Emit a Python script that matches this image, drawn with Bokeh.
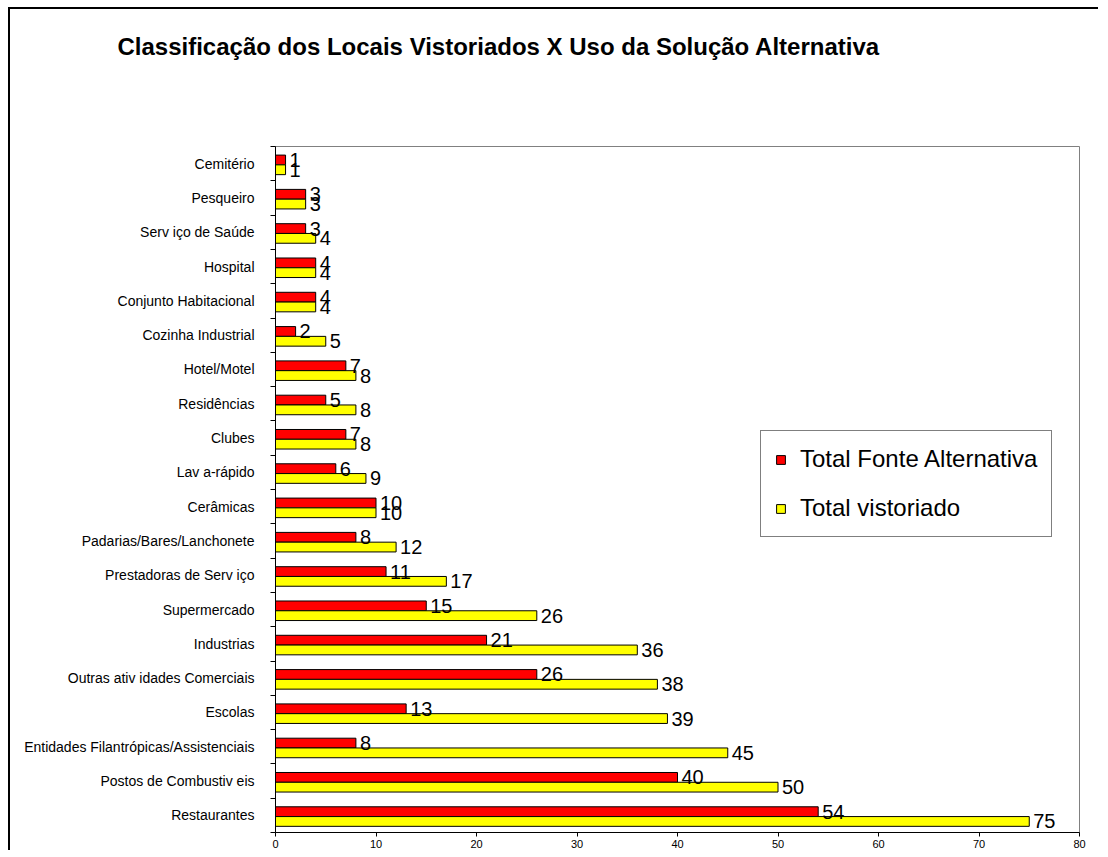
from bokeh.plotting import figure
from bokeh.models import ColumnDataSource, FixedTicker, Range1d, Legend, LegendItem
from bokeh.core.properties import value
from bokeh.embed import file_html
from bokeh.resources import INLINE

# Data (bottom to top)
categories = [
    "Restaurantes",
    "Postos de Combustiv eis",
    "Entidades Filantrópicas/Assistenciais",
    "Escolas",
    "Outras ativ idades Comerciais",
    "Industrias",
    "Supermercado",
    "Prestadoras de Serv iço",
    "Padarias/Bares/Lanchonete",
    "Cerâmicas",
    "Lav a-rápido",
    "Clubes",
    "Residências",
    "Hotel/Motel",
    "Cozinha Industrial",
    "Conjunto Habitacional",
    "Hospital",
    "Serv iço de Saúde",
    "Pesqueiro",
    "Cemitério",
]
fonte_alternativa = [54, 40, 8, 13, 26, 21, 15, 11, 8, 10, 6, 7, 5, 7, 2, 4, 4, 3, 3, 1]
total_vistoriado = [75, 50, 45, 39, 38, 36, 26, 17, 12, 10, 9, 8, 8, 8, 5, 4, 4, 4, 3, 1]
x_ticks = [0, 10, 20, 30, 40, 50, 60, 70, 80]
title_text = "Classificação dos Locais Vistoriados X Uso da Solução Alternativa"
legend_labels = ["Total Fonte Alternativa", "Total vistoriado"]

n = len(categories)
centers = [i + 0.5 for i in range(n)]
src = ColumnDataSource(dict(
    y_red=[c + 0.107 for c in centers],
    y_yel=[c - 0.178 for c in centers],
    red=fonte_alternativa,
    yel=total_vistoriado,
    red_lbl=[str(v) for v in fonte_alternativa],
    yel_lbl=[str(v) for v in total_vistoriado],
))

FONT = "Liberation Sans"

p = figure(width=1090, height=843, x_range=Range1d(0, 80), y_range=Range1d(0, n),
           output_backend="svg", toolbar_location=None,
           min_border_left=265, min_border_right=21, min_border_top=137, min_border_bottom=20,
           title=title_text + "\n \n \n ")
p.styles = {"border-left": "2px solid black", "border-top": "2px solid black",
            "margin-left": "8px", "margin-top": "7px"}

p.title.text_font = FONT
p.title.text_font_size = "24px"
p.title.text_font_style = "bold"
p.title.text_color = "black"
p.title.align = "left"
p.title.vertical_align = "top"
p.title.offset = -158
p.title.standoff = 7

p.xgrid.visible = False
p.ygrid.visible = False
p.outline_line_color = "#808080"
p.outline_line_width = 1

r_red = p.hbar(y="y_red", left=0, right="red", height=0.285, fill_color="#FF0000",
               line_color="black", line_width=1, source=src)
r_yel = p.hbar(y="y_yel", left=0, right="yel", height=0.285, fill_color="#FFFF00",
               line_color="black", line_width=1, source=src)

p.text(x="red", y="y_red", text="red_lbl", x_offset=4, text_font=value(FONT),
       text_font_size="20px", text_baseline="middle", text_align="left",
       text_color="black", source=src)
p.text(x="yel", y="y_yel", text="yel_lbl", x_offset=4, text_font=value(FONT),
       text_font_size="20px", text_baseline="middle", text_align="left",
       text_color="black", source=src)

# Y axis
p.yaxis.ticker = FixedTicker(ticks=centers, minor_ticks=list(range(n + 1)))
p.yaxis.major_label_overrides = {c: name for c, name in zip(centers, categories)}
p.yaxis.major_tick_out = 0
p.yaxis.major_tick_in = 0
p.yaxis.minor_tick_out = 5
p.yaxis.minor_tick_in = 0
p.yaxis.minor_tick_line_color = "black"
p.yaxis.axis_line_color = "black"
p.yaxis.major_label_text_font = FONT
p.yaxis.major_label_text_font_size = "14px"
p.yaxis.major_label_text_color = "black"
p.yaxis.major_label_standoff = 16

# X axis
p.xaxis.ticker = FixedTicker(ticks=x_ticks, minor_ticks=[])
p.xaxis.major_tick_out = 4
p.xaxis.major_tick_in = 0
p.xaxis.major_tick_line_color = "black"
p.xaxis.axis_line_color = "black"
p.xaxis.major_label_text_font = FONT
p.xaxis.major_label_text_font_size = "11px"
p.xaxis.major_label_text_color = "black"
p.xaxis.major_label_standoff = 3

legend = Legend(items=[LegendItem(label=legend_labels[0], renderers=[r_red]),
                       LegendItem(label=legend_labels[1], renderers=[r_yel])],
                location=(485, 295))
legend.label_text_font = FONT
legend.label_text_font_size = "24px"
legend.label_text_color = "black"
legend.glyph_width = 11
legend.glyph_height = 11
legend.label_standoff = 14
legend.padding = 14
legend.spacing = 21
legend.label_height = 25
legend.margin = 0
legend.border_line_color = "black"
legend.border_line_width = 1
legend.background_fill_alpha = 1
p.add_layout(legend)

open("out.html", "w").write(file_html(p, INLINE))
